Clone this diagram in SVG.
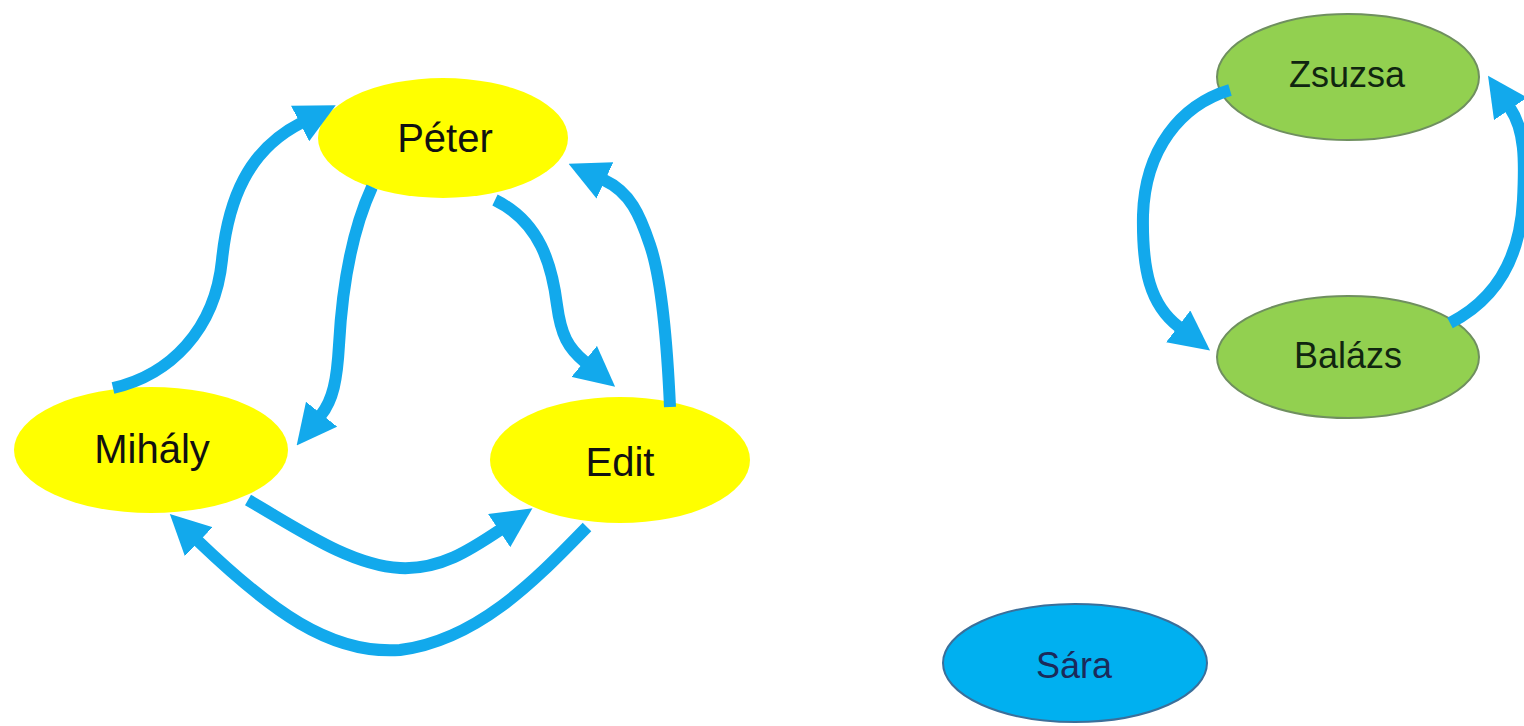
<svg xmlns="http://www.w3.org/2000/svg" width="1524" height="726" viewBox="0 0 1524 726">
<style>
.yel{fill:#ffff00;stroke:none}
.grn{fill:#92d050;stroke:#6f8f5f;stroke-width:2}
.blu{fill:#00b0f0;stroke:#3b6f9a;stroke-width:2}
.lbl{font-family:"Liberation Sans",Arial,sans-serif;text-anchor:middle}
.ly{font-size:40px;fill:#111}
.lg{font-size:36px;fill:#102510}
.lb{font-size:36px;fill:#1b2a5a}
.arr{fill:none;stroke:#12a9ec;stroke-width:12;stroke-linecap:butt;marker-end:url(#ah)}
</style>
<defs>
<marker id="ah" markerUnits="userSpaceOnUse" viewBox="0 0 40 40" refX="1" refY="20" markerWidth="40" markerHeight="40" orient="auto">
<path d="M0,0 L40,20 L0,40 z" fill="#12a9ec"/>
</marker>
</defs>
<rect width="1524" height="726" fill="#ffffff"/>
<g id="peter"><ellipse class="yel" cx="443" cy="138" rx="125" ry="60"/><text class="lbl ly" x="445" y="152">Péter</text></g>
<g id="mihaly"><ellipse class="yel" cx="151" cy="450" rx="137" ry="63"/><text class="lbl ly" x="152" y="463">Mihály</text></g>
<g id="edit"><ellipse class="yel" cx="620" cy="460" rx="130" ry="63"/><text class="lbl ly" x="620" y="476">Edit</text></g>
<g id="zsuzsa"><ellipse class="grn" cx="1348" cy="77" rx="131" ry="63"/><text class="lbl lg" x="1347" y="87">Zsuzsa</text></g>
<g id="balazs"><ellipse class="grn" cx="1348" cy="357" rx="131" ry="61"/><text class="lbl lg" x="1348" y="368">Balázs</text></g>
<g id="sara"><ellipse class="blu" cx="1075" cy="663" rx="132" ry="59"/><text class="lbl lb" x="1074" y="678">Sára</text></g>
<g id="connectors">
<path class="arr" d="M113,388 C170,375 215,330 222,260 C228,200 248,150 301,123"/>
<path class="arr" d="M372,187 C350,235 342,290 339,345 C337,380 333,400 321,415"/>
<path class="arr" d="M495,200 C540,222 552,265 557,305 C561,335 568,348 585,362"/>
<path class="arr" d="M670,407 C667,340 662,280 650,245 C640,215 630,192 604,180"/>
<path class="arr" d="M248,500 C300,530 350,565 400,568 C440,570 470,550 500,530"/>
<path class="arr" d="M587,527 C540,575 480,640 400,650 C330,655 270,610 198,541"/>
<path class="arr" d="M1230,90 C1180,105 1145,150 1143,215 C1142,270 1150,305 1179,327"/>
<path class="arr" d="M1450,323 C1495,300 1520,260 1523,200 C1525,160 1525,130 1510,108"/>
</g>
</svg>
